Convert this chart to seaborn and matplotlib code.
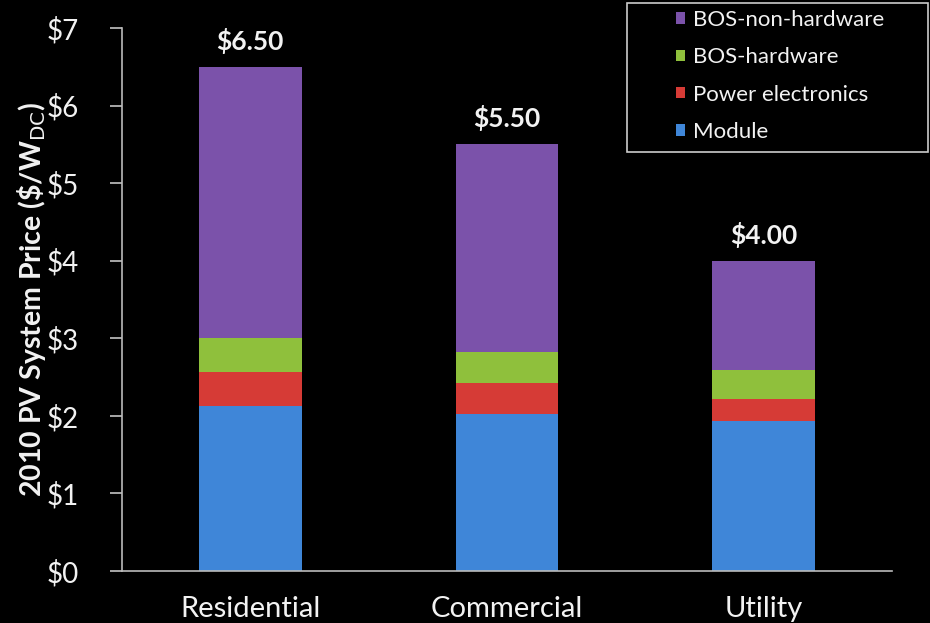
import matplotlib
matplotlib.use("Agg")
import matplotlib.pyplot as plt
from matplotlib.patches import Rectangle
import seaborn as sns
import pandas as pd

# values ($/W DC)
sectors = ["Residential", "Commercial", "Utility"]
segments = ["Module", "Power electronics", "BOS-hardware", "BOS-non-hardware"]
module = [2.13, 2.03, 1.93]
power_electronics = [0.44, 0.39, 0.29]
bos_hardware = [0.43, 0.40, 0.37]
bos_non_hardware = [3.50, 2.68, 1.41]
colors = ["#3f86d8", "#d63b36", "#8fc03c", "#7b52aa"]

df = pd.DataFrame({
    "sector": sectors,
    "Module": module,
    "Power electronics": power_electronics,
    "BOS-hardware": bos_hardware,
    "BOS-non-hardware": bos_non_hardware,
})
totals = df[segments].sum(axis=1)

sns.set_theme(style="dark")
plt.rcParams["font.family"] = ["Lato", "DejaVu Sans"]
fg = "#f2f2f2"

fig = plt.figure(figsize=(9.3, 6.23), dpi=100, facecolor="black")
ax = fig.add_axes([0.131, 0.0835, 0.828, 0.8715])
ax.set_facecolor("black")

# stacked bars: draw cumulative heights, tallest first
cum = df[segments].cumsum(axis=1)
for seg, col in reversed(list(zip(segments, colors))):
    sns.barplot(x=df["sector"], y=cum[seg], color=col, width=0.4,
                saturation=1, ax=ax, label=seg, zorder=2, linewidth=0)

for i, t in enumerate(totals):
    ax.text(i, t + 0.17, f"${t:.2f}", ha="center", va="bottom",
            color=fg, fontsize=19, fontweight="bold")

ax.set_ylim(0, 7)
ax.set_xlim(-0.5, 2.5)
ax.set_yticks(range(8))
ax.set_yticklabels([f"${v}" for v in range(8)], fontsize=20, color=fg)
ax.set_xticks(range(3))
ax.set_xticklabels(sectors, fontsize=21, color=fg)
ax.set_xticks([-0.5, 0.5, 1.5, 2.5], minor=True)
ax.tick_params(axis="x", which="major", length=0, pad=18)
ax.tick_params(axis="x", which="minor", length=7, color="#bbbbbb", direction="in")
ax.tick_params(axis="y", length=9, color="#bbbbbb", direction="out", pad=22, left=True)
ax.set_xlabel("")
ax.set_ylabel(r"2010 PV System Price (\$/W$_{\mathrm{DC}}$)", color=fg,
              fontsize=20.5, fontweight="bold", labelpad=-1)
ax.grid(False)
for side in ["top", "right"]:
    ax.spines[side].set_visible(False)
for side in ["left", "bottom"]:
    ax.spines[side].set_color("#bbbbbb")
    ax.spines[side].set_linewidth(1.2)

# legend frame drawn separately: the reference has wide padding on the left
fig.patches.append(Rectangle((627 / 930, 1 - 152 / 623), 301 / 930, 149 / 623,
                             transform=fig.transFigure, facecolor="black",
                             edgecolor="#cccccc", linewidth=1.2, zorder=3))
handles, labels = ax.get_legend_handles_labels()
leg = fig.legend(handles, labels, loc="upper left",
                 bbox_to_anchor=(676 / 930, 1 - 10 / 623), bbox_transform=fig.transFigure,
                 frameon=False, fontsize=16, labelcolor=fg,
                 handlelength=0.4, handleheight=0.4, handletextpad=0.35,
                 labelspacing=0.78, borderpad=0, borderaxespad=0)
leg.set_zorder(4)
for h in leg.legend_handles:
    h.set_linewidth(0)

fig.savefig("out.png", dpi=100, facecolor="black")
